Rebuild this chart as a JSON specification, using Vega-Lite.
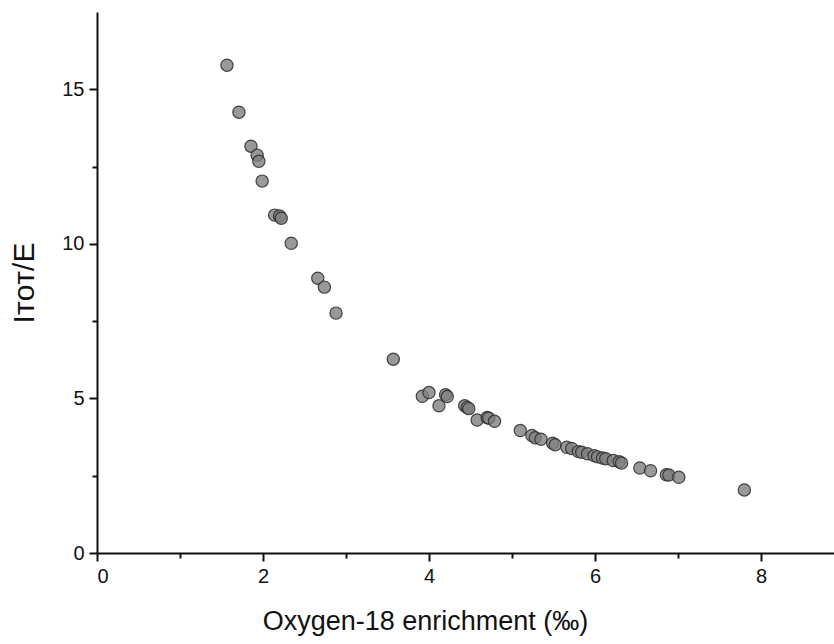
{
  "$schema": "https://vega.github.io/schema/vega-lite/v6.json",
  "width": 737,
  "height": 541,
  "autosize": {"type": "none"},
  "padding": {"left": 97, "top": 12, "right": 0, "bottom": 91},
  "background": "white",
  "config": {"view": {"stroke": null}},
  "data": {"values": [
    {"x": 1.566, "y": 15.78}, {"x": 1.71, "y": 14.26}, {"x": 1.855, "y": 13.16}, {"x": 1.93, "y": 12.87},
    {"x": 1.95, "y": 12.67}, {"x": 1.99, "y": 12.03}, {"x": 2.14, "y": 10.93}, {"x": 2.20, "y": 10.90},
    {"x": 2.22, "y": 10.83}, {"x": 2.34, "y": 10.02}, {"x": 2.66, "y": 8.89}, {"x": 2.74, "y": 8.60},
    {"x": 2.88, "y": 7.76}, {"x": 3.57, "y": 6.27}, {"x": 3.92, "y": 5.07}, {"x": 4.0, "y": 5.19},
    {"x": 4.12, "y": 4.76}, {"x": 4.2, "y": 5.12}, {"x": 4.22, "y": 5.06}, {"x": 4.43, "y": 4.76},
    {"x": 4.46, "y": 4.71}, {"x": 4.48, "y": 4.67}, {"x": 4.58, "y": 4.30}, {"x": 4.70, "y": 4.38},
    {"x": 4.72, "y": 4.36}, {"x": 4.79, "y": 4.26}, {"x": 5.10, "y": 3.96}, {"x": 5.24, "y": 3.80},
    {"x": 5.28, "y": 3.73}, {"x": 5.35, "y": 3.68}, {"x": 5.49, "y": 3.55}, {"x": 5.52, "y": 3.50},
    {"x": 5.66, "y": 3.42}, {"x": 5.72, "y": 3.38}, {"x": 5.80, "y": 3.28}, {"x": 5.84, "y": 3.26},
    {"x": 5.91, "y": 3.21}, {"x": 5.99, "y": 3.15}, {"x": 6.03, "y": 3.11}, {"x": 6.09, "y": 3.07},
    {"x": 6.13, "y": 3.05}, {"x": 6.22, "y": 2.99}, {"x": 6.29, "y": 2.95}, {"x": 6.32, "y": 2.91},
    {"x": 6.54, "y": 2.75}, {"x": 6.67, "y": 2.66}, {"x": 6.86, "y": 2.53}, {"x": 6.89, "y": 2.52},
    {"x": 7.01, "y": 2.45}, {"x": 7.80, "y": 2.04}
  ]},
  "mark": {"type": "circle", "size": 150, "fill": "#7f7f7f", "fillOpacity": 0.8, "stroke": "#2b2b2b", "strokeWidth": 1.2, "strokeOpacity": 0.85},
  "encoding": {
    "x": {
      "field": "x", "type": "quantitative",
      "scale": {"domain": [0, 8.88], "nice": false, "zero": false},
      "axis": {
        "values": [0, 1, 2, 3, 4, 5, 6, 7, 8],
        "labelExpr": "datum.value % 2 === 0 ? datum.label : ''",
        "title": "Oxygen-18 enrichment (‰)",
        "titleFont": "Liberation Sans", "titleFontSize": 27, "titleFontWeight": "normal", "titleColor": "#111",
        "titlePadding": 22, "titleX": 328,
        "labelFont": "Liberation Sans", "labelFontSize": 20, "labelColor": "#111", "labelPadding": 5,
        "domainColor": "#111", "domainWidth": 2,
        "tickColor": "#111", "tickWidth": 2,
        "tickSize": {"condition": {"test": "datum.value % 2 === 0", "value": 8}, "value": 5},
        "grid": false
      }
    },
    "y": {
      "field": "y", "type": "quantitative",
      "scale": {"domain": [0, 17.5], "nice": false, "zero": true},
      "axis": {
        "values": [0, 2.5, 5, 7.5, 10, 12.5, 15],
        "labelExpr": "datum.value % 5 === 0 ? datum.label : ''",
        "title": "Iᴛᴏᴛ/E",
        "titleFont": "Liberation Sans", "titleFontSize": 30, "titleFontWeight": "normal", "titleColor": "#111",
        "titlePadding": 22,
        "labelFont": "Liberation Sans", "labelFontSize": 20, "labelColor": "#111", "labelPadding": 5,
        "domainColor": "#111", "domainWidth": 2,
        "tickColor": "#111", "tickWidth": 2,
        "tickSize": {"condition": {"test": "datum.value % 5 === 0", "value": 8}, "value": 5},
        "grid": false
      }
    }
  }
}
